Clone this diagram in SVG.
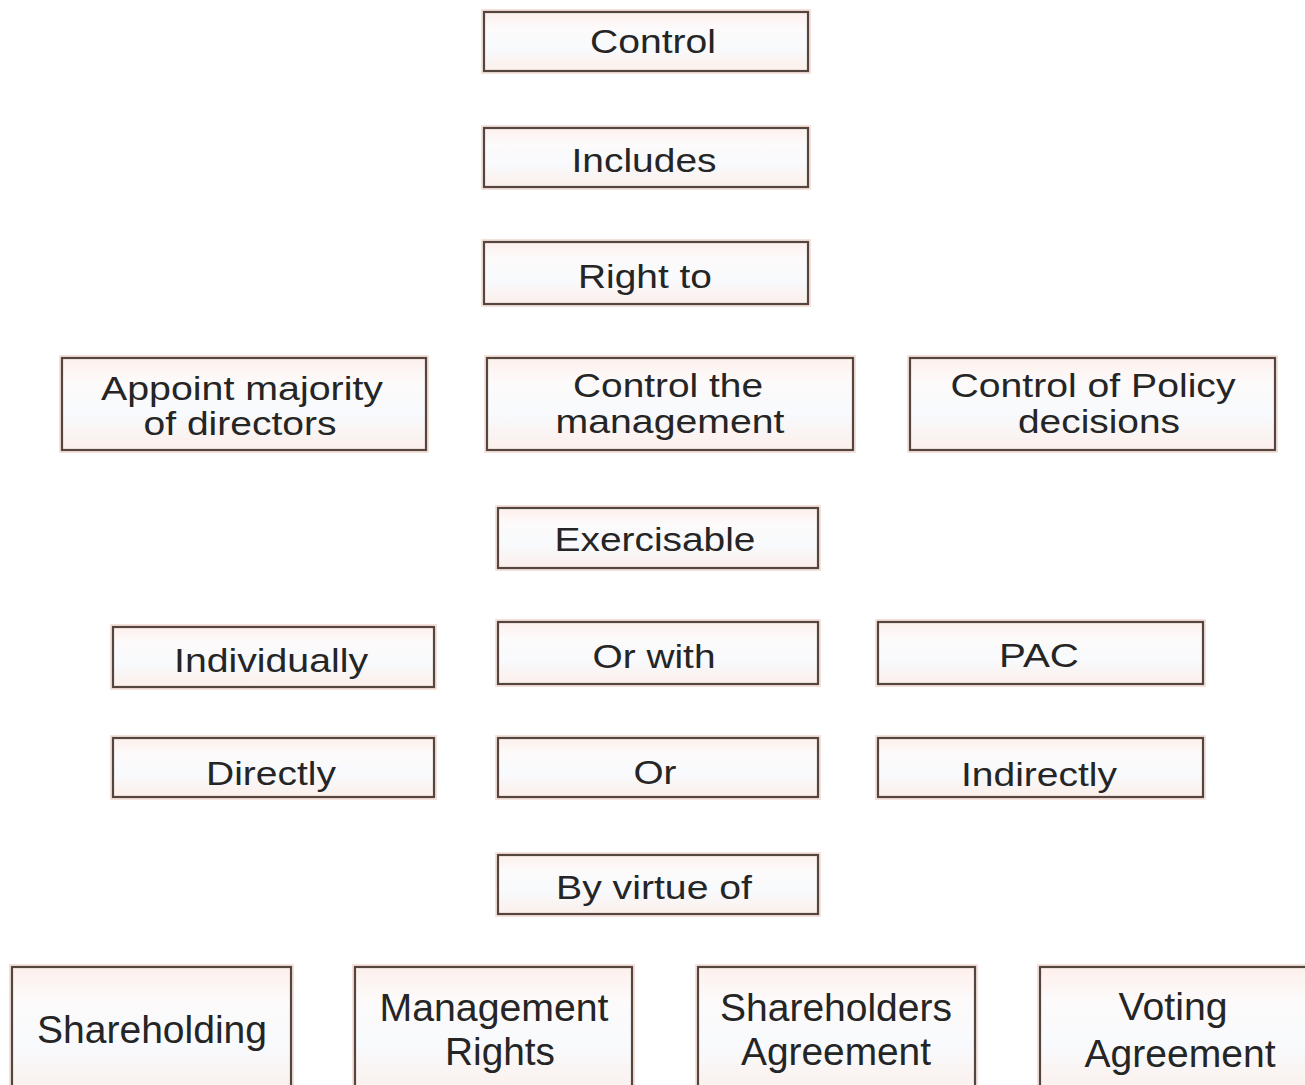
<svg xmlns="http://www.w3.org/2000/svg" width="1305" height="1085" viewBox="0 0 1305 1085">
  <defs>
    <linearGradient id="boxFill" x1="0" y1="0" x2="0" y2="1">
      <stop offset="0" stop-color="#fdf0ec"/>
      <stop offset="0.25" stop-color="#fdfafa"/>
      <stop offset="0.6" stop-color="#f8fafd"/>
      <stop offset="1" stop-color="#fcefea"/>
    </linearGradient>
  </defs>
  <style>
    .halo { fill: none; stroke: #f6e2dc; stroke-width: 6; }
    .box { fill: url(#boxFill); stroke: #54453f; stroke-width: 2.2; }
    .lbl { font-family: "Liberation Sans", Arial, sans-serif; font-size: 33px; fill: #252525; text-anchor: middle; }
    .big { font-size: 38px; }
  </style>
  <rect width="1305" height="1085" fill="#ffffff"/>

  <g id="connectors"/>

  <g id="control">
    <rect class="halo" x="484" y="12" width="324" height="59"/>
    <rect class="box" x="484" y="12" width="324" height="59"/>
    <text class="lbl" x="653" y="53" textLength="126" lengthAdjust="spacingAndGlyphs">Control</text>
  </g>
  <g id="includes">
    <rect class="halo" x="484" y="128" width="324" height="59"/>
    <rect class="box" x="484" y="128" width="324" height="59"/>
    <text class="lbl" x="644" y="172" textLength="145" lengthAdjust="spacingAndGlyphs">Includes</text>
  </g>
  <g id="right-to">
    <rect class="halo" x="484" y="242" width="324" height="62"/>
    <rect class="box" x="484" y="242" width="324" height="62"/>
    <text class="lbl" x="645" y="288" textLength="134" lengthAdjust="spacingAndGlyphs">Right to</text>
  </g>

  <g id="appoint-directors">
    <rect class="halo" x="62" y="358" width="364" height="92"/>
    <rect class="box" x="62" y="358" width="364" height="92"/>
    <text class="lbl" x="242" y="400" textLength="282" lengthAdjust="spacingAndGlyphs">Appoint majority</text>
    <text class="lbl" x="240" y="435" textLength="193" lengthAdjust="spacingAndGlyphs">of directors</text>
  </g>
  <g id="control-management">
    <rect class="halo" x="487" y="358" width="366" height="92"/>
    <rect class="box" x="487" y="358" width="366" height="92"/>
    <text class="lbl" x="668" y="397" textLength="190" lengthAdjust="spacingAndGlyphs">Control the</text>
    <text class="lbl" x="670" y="433" textLength="229" lengthAdjust="spacingAndGlyphs">management</text>
  </g>
  <g id="control-policy">
    <rect class="halo" x="910" y="358" width="365" height="92"/>
    <rect class="box" x="910" y="358" width="365" height="92"/>
    <text class="lbl" x="1093" y="397" textLength="285" lengthAdjust="spacingAndGlyphs">Control of Policy</text>
    <text class="lbl" x="1099" y="433" textLength="162" lengthAdjust="spacingAndGlyphs">decisions</text>
  </g>

  <g id="exercisable">
    <rect class="halo" x="498" y="508" width="320" height="60"/>
    <rect class="box" x="498" y="508" width="320" height="60"/>
    <text class="lbl" x="655" y="551" textLength="201" lengthAdjust="spacingAndGlyphs">Exercisable</text>
  </g>

  <g id="individually">
    <rect class="halo" x="113" y="627" width="321" height="60"/>
    <rect class="box" x="113" y="627" width="321" height="60"/>
    <text class="lbl" x="271" y="672" textLength="194" lengthAdjust="spacingAndGlyphs">Individually</text>
  </g>
  <g id="or-with">
    <rect class="halo" x="498" y="622" width="320" height="62"/>
    <rect class="box" x="498" y="622" width="320" height="62"/>
    <text class="lbl" x="654" y="668" textLength="123" lengthAdjust="spacingAndGlyphs">Or with</text>
  </g>
  <g id="pac">
    <rect class="halo" x="878" y="622" width="325" height="62"/>
    <rect class="box" x="878" y="622" width="325" height="62"/>
    <text class="lbl" x="1039" y="667" textLength="80" lengthAdjust="spacingAndGlyphs">PAC</text>
  </g>

  <g id="directly">
    <rect class="halo" x="113" y="738" width="321" height="59"/>
    <rect class="box" x="113" y="738" width="321" height="59"/>
    <text class="lbl" x="271" y="785" textLength="130" lengthAdjust="spacingAndGlyphs">Directly</text>
  </g>
  <g id="or">
    <rect class="halo" x="498" y="738" width="320" height="59"/>
    <rect class="box" x="498" y="738" width="320" height="59"/>
    <text class="lbl" x="655" y="784" textLength="43" lengthAdjust="spacingAndGlyphs">Or</text>
  </g>
  <g id="indirectly">
    <rect class="halo" x="878" y="738" width="325" height="59"/>
    <rect class="box" x="878" y="738" width="325" height="59"/>
    <text class="lbl" x="1039" y="786" textLength="156" lengthAdjust="spacingAndGlyphs">Indirectly</text>
  </g>

  <g id="by-virtue-of">
    <rect class="halo" x="498" y="855" width="320" height="59"/>
    <rect class="box" x="498" y="855" width="320" height="59"/>
    <text class="lbl" x="654" y="899" textLength="196" lengthAdjust="spacingAndGlyphs">By virtue of</text>
  </g>

  <g id="shareholding">
    <rect class="halo" x="12" y="967" width="279" height="130"/>
    <rect class="box" x="12" y="967" width="279" height="130"/>
    <text class="lbl big" x="152" y="1043" textLength="230" lengthAdjust="spacingAndGlyphs">Shareholding</text>
  </g>
  <g id="management-rights">
    <rect class="halo" x="355" y="967" width="277" height="130"/>
    <rect class="box" x="355" y="967" width="277" height="130"/>
    <text class="lbl big" x="494" y="1021" textLength="229" lengthAdjust="spacingAndGlyphs">Management</text>
    <text class="lbl big" x="500" y="1065" textLength="110" lengthAdjust="spacingAndGlyphs">Rights</text>
  </g>
  <g id="shareholders-agreement">
    <rect class="halo" x="698" y="967" width="277" height="130"/>
    <rect class="box" x="698" y="967" width="277" height="130"/>
    <text class="lbl big" x="836" y="1021" textLength="232" lengthAdjust="spacingAndGlyphs">Shareholders</text>
    <text class="lbl big" x="836" y="1065" textLength="190" lengthAdjust="spacingAndGlyphs">Agreement</text>
  </g>
  <g id="voting-agreement">
    <rect class="halo" x="1040" y="967" width="275" height="130"/>
    <rect class="box" x="1040" y="967" width="275" height="130"/>
    <text class="lbl big" x="1173" y="1020" textLength="109" lengthAdjust="spacingAndGlyphs">Voting</text>
    <text class="lbl big" x="1180" y="1067" textLength="191" lengthAdjust="spacingAndGlyphs">Agreement</text>
  </g>
</svg>
